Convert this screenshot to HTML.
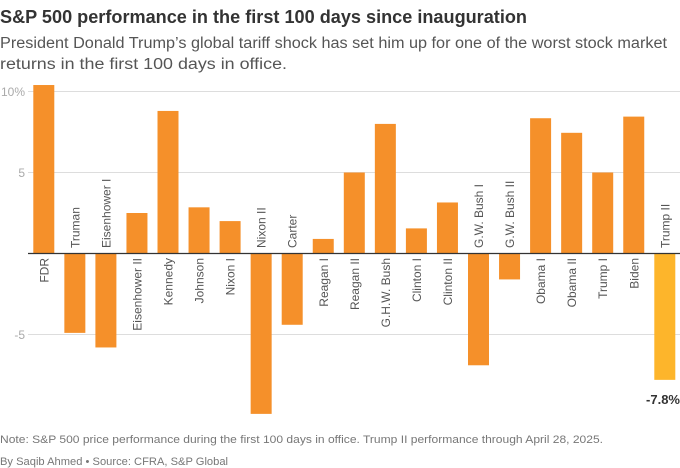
<!DOCTYPE html>
<html><head><meta charset="utf-8"><style>
body{margin:0;background:#fff;}
svg{display:block;font-family:"Liberation Sans",sans-serif;}
</style></head><body>
<svg width="680" height="468" viewBox="0 0 680 468">
<text x="0" y="23" font-size="18" font-weight="bold" fill="#333" textLength="527" lengthAdjust="spacingAndGlyphs">S&amp;P 500 performance in the first 100 days since inauguration</text>
<text x="0" y="48" font-size="15.5" fill="#555" textLength="667" lengthAdjust="spacingAndGlyphs">President Donald Trump’s global tariff shock has set him up for one of the worst stock market</text>
<text x="0" y="69" font-size="15.5" fill="#555" textLength="287" lengthAdjust="spacingAndGlyphs">returns in the first 100 days in office.</text>
<g stroke="#ddd" stroke-width="1">
<line x1="28" y1="91.5" x2="680" y2="91.5"/>
<line x1="28" y1="172.5" x2="680" y2="172.5"/>
<line x1="28" y1="334.5" x2="680" y2="334.5"/>
</g>
<g font-size="12" fill="#aaa" text-anchor="end">
<text x="25" y="96">10%</text>
<text x="25" y="177">5</text>
<text x="25" y="339">-5</text>
</g>
<g id="bars" fill="#F5902A"></g>
<line x1="28" y1="253.5" x2="680" y2="253.5" stroke="#333" stroke-width="1.2"/>
<g id="labels" font-size="12" fill="#555"></g>
<text x="680" y="404" font-size="13" font-weight="bold" fill="#333" text-anchor="end">-7.8%</text>
<text x="0" y="443" font-size="11" fill="#777" textLength="603" lengthAdjust="spacingAndGlyphs">Note: S&amp;P 500 price performance during the first 100 days in office. Trump II performance through April 28, 2025.</text>
<text x="0" y="465" font-size="11" fill="#777" textLength="228" lengthAdjust="spacingAndGlyphs">By Saqib Ahmed • Source: CFRA, S&amp;P Global</text>
<script>
var d=[["FDR",10.4],["Truman",-4.9],["Eisenhower I",-5.8],["Eisenhower II",2.5],["Kennedy",8.8],["Johnson",2.85],["Nixon I",2.0],["Nixon II",-9.9],["Carter",-4.4],["Reagan I",0.9],["Reagan II",5.0],["G.H.W. Bush",8.0],["Clinton I",1.55],["Clinton II",3.15],["G.W. Bush I",-6.9],["G.W. Bush II",-1.6],["Obama I",8.35],["Obama II",7.45],["Trump I",5.0],["Biden",8.45],["Trump II",-7.8]];
var ns="http://www.w3.org/2000/svg",B=document.getElementById("bars"),L=document.getElementById("labels");
d.forEach(function(e,i){
 var x=33.3+i*31.05,v=e[1],y0=253.5,h=Math.abs(v)*16.2;
 var r=document.createElementNS(ns,"rect");
 r.setAttribute("x",x);r.setAttribute("width",21);
 r.setAttribute("y",v>0?y0-h:y0);r.setAttribute("height",h);
 if(i==20)r.setAttribute("fill","#FDB52B");
 B.appendChild(r);
 var t=document.createElementNS(ns,"text"),cx=x+10.5+4.5;
 var ty=v>0?258:248;
 t.setAttribute("transform","translate("+cx+","+ty+") rotate(-90)");
 t.setAttribute("text-anchor",v>0?"end":"start");
 t.textContent=e[0];L.appendChild(t);
});
</script>
</svg>
</body></html>
